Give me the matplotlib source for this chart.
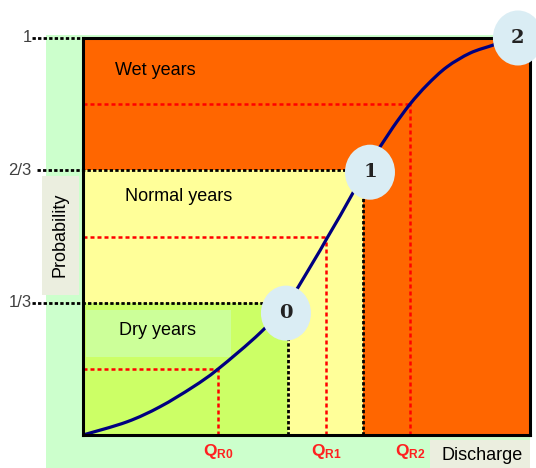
import numpy as np
from matplotlib import pyplot as plt
from matplotlib.patches import Rectangle, Ellipse, PathPatch
from matplotlib.path import Path

plt.rcParams['font.family'] = ['Liberation Sans', 'DejaVu Sans']
plt.rcParams['mathtext.fontset'] = 'custom'
plt.rcParams['mathtext.bf'] = 'Liberation Sans:bold'
plt.rcParams['mathtext.rm'] = 'Liberation Sans'

# flow duration style curve (discharge vs probability)
curve_x = [0.0, 0.098, 0.172, 0.246, 0.302, 0.396, 0.459, 0.515,
           0.546, 0.604, 0.626, 0.664, 0.694, 0.732, 0.770, 0.814, 0.866,
           0.917, 0.933]
curve_y = [0.0, 0.033, 0.071, 0.121, 0.166, 0.257, 0.335, 0.436,
           0.496, 0.610, 0.667, 0.725, 0.776, 0.834, 0.882, 0.927, 0.962,
           0.982, 0.990]

prob_levels = [1/3, 2/3, 1.0]
prob_labels = ['1/3', '2/3', '1']
q_limits = [0.459, 0.626]          # dry / normal and normal / wet boundaries
qr_x = [0.302, 0.544, 0.732]
qr_p = [0.167, 0.499, 0.834]
qr_names = ['R0', 'R1', 'R2']
point_x = [0.454, 0.642, 0.973]
point_y = [0.307, 0.662, 1.0]
point_labels = ['0', '1', '2']
region_names = ['Dry years', 'Normal years', 'Wet years']

ORANGE = '#ff6600'
YELLOW = '#ffff99'
LIME = '#ccff66'


def smooth_path(xs, ys):
    # catmull-rom -> cubic bezier, drawn by matplotlib as a curve
    pts = np.column_stack([xs, ys])
    verts = [pts[0]]
    codes = [Path.MOVETO]
    n = len(pts)
    for i in range(n - 1):
        p0 = pts[max(i - 1, 0)]
        p1 = pts[i]
        p2 = pts[i + 1]
        p3 = pts[min(i + 2, n - 1)]
        c1 = p1 + (p2 - p0) / 6
        c2 = p2 - (p3 - p1) / 6
        verts += [c1, c2, p2]
        codes += [Path.CURVE4] * 3
    return Path(verts, codes)


W, H = 536, 468
fig = plt.figure(figsize=(W / 100, H / 100), dpi=100)

# background in pixel coords
bg = fig.add_axes([0, 0, 1, 1])
bg.set_xlim(0, W)
bg.set_ylim(H, 0)
bg.axis('off')
bg.add_patch(Rectangle((46, 35), 484, 433, color='#ccffcc', lw=0))
bg.add_patch(Rectangle((42, 176), 37, 119, color='#ebeedf', lw=0))
bg.text(60, 235, 'Probability', rotation=90, ha='center', va='center', fontsize=13)
bg.add_patch(Rectangle((430, 440), 100, 28, color='#ebeedf', lw=0))
bg.text(482, 456, 'Discharge', ha='center', va='center', fontsize=13)

x0, y0, x1, y1 = 83, 38, 530, 435
ax = fig.add_axes([x0 / W, 1 - y1 / H, (x1 - x0) / W, (y1 - y0) / H])
ax.set_xlim(0, 1)
ax.set_ylim(0, 1)
ax.set_facecolor(ORANGE)
ax.set_xticks([])
ax.set_yticks([])
for s in ax.spines.values():
    s.set_linewidth(2.2)
    s.set_color('black')
    s.set_zorder(10)

lo, hi = prob_levels[0], prob_levels[1]
ax.add_patch(Rectangle((0, lo), q_limits[1], hi - lo, color=YELLOW, lw=0))
ax.add_patch(Rectangle((q_limits[0], 0), q_limits[1] - q_limits[0], lo, color=YELLOW, lw=0))
ax.add_patch(Rectangle((0, 0), q_limits[0], lo, color=LIME, lw=0))
ax.add_patch(Rectangle((0.007, 0.196), 0.324, 0.119, color='#ccff99', lw=0))

ax.text(0.166, 0.262, region_names[0], ha='center', va='center', fontsize=13)
ax.text(0.213, 0.600, region_names[1], ha='center', va='center', fontsize=13)
ax.text(0.161, 0.917, region_names[2], ha='center', va='center', fontsize=13)

# black dotted level lines
dot = dict(color='black', lw=2, dashes=(1.2, 0.8), clip_on=False, zorder=4)
ax.plot([-0.115, 0], [prob_levels[2]] * 2, **dot)
ax.plot([-0.102, q_limits[1]], [hi] * 2, **dot)
ax.plot([-0.115, q_limits[0]], [lo] * 2, **dot)
ax.plot([q_limits[0]] * 2, [0, lo], **dot)
ax.plot([q_limits[1]] * 2, [0, hi], **dot)
for p, lab in zip(prob_levels, prob_labels):
    ax.text(-0.115, p, lab, ha='right', va='center', fontsize=12,
            color='#404040', clip_on=False)

# red dashed reading lines
red = dict(color='red', lw=1.8, dashes=(1.6, 1.2), zorder=5)
for qx, qp, nm in zip(qr_x, qr_p, qr_names):
    ax.plot([0, qx], [qp, qp], **red)
    ax.plot([qx, qx], [0, qp], **red)
    ax.text(qx, -0.042, r'$\mathbf{Q_{%s}}$' % nm, ha='center', va='center',
            fontsize=12.5, color='#ff2020', clip_on=False)

ax.add_patch(PathPatch(smooth_path(curve_x, curve_y), fill=False,
                       edgecolor='#000080', lw=2.3, capstyle='round', zorder=6))

for px, py, lab in zip(point_x, point_y, point_labels):
    ax.add_patch(Ellipse((px, py), 50 / 447, 55 / 397, color='#daedf4', lw=0,
                         clip_on=False, zorder=11))
    ax.text(px, py, lab, ha='center', va='center', fontsize=14, fontweight='bold',
            family='DejaVu Serif', color='#222222', zorder=12, clip_on=False)

plt.savefig('out.png', dpi=100)
